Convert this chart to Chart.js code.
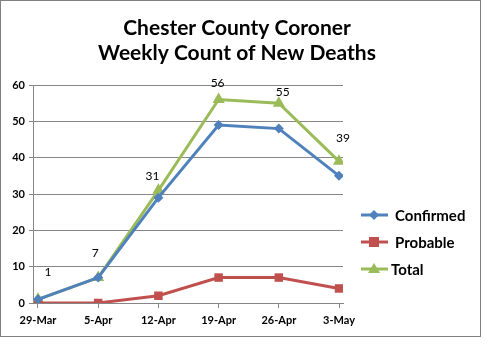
<!DOCTYPE html>
<html>
<head>
<meta charset="utf-8">
<script src="https://cdn.jsdelivr.net/npm/chart.js@4"></script>
<style>
  body { margin: 0; background: #fff; }
  #wrap { position: absolute; left: 0; top: 0; width: 479px; height: 335px; border: 1px solid #808080; }
</style>
</head>
<body>
<div id="wrap"><canvas id="myChart" width="479" height="335"></canvas></div>
<script>
var weeks = ["29-Mar", "5-Apr", "12-Apr", "19-Apr", "26-Apr", "3-May"];
var confirmed = [1, 7, 29, 49, 48, 35];
var probable = [0, 0, 2, 7, 7, 4];
var total = [1, 7, 31, 56, 55, 39];
var titleLines = ["Chester County Coroner", "Weekly Count of New Deaths"];

var FONT = "Lato, 'Open Sans', sans-serif";

// label nudges (the labels were hand placed in the original)
var labelDx = [10, -3, -6, -1, 4, 4];
var labelDy = [-27, -24, -14, -16, -11, -23];

function points(values) {
  return values.map(function (v, i) { return { x: i, y: v }; });
}

// title, legend and the data labels of Total
var extras = {
  id: "extras",
  afterDraw: function (chart) {
    var ctx = chart.ctx;
    ctx.save();
    ctx.fillStyle = "#000";
    ctx.textAlign = "center";
    ctx.textBaseline = "middle";
    ctx.font = "bold 21px " + FONT;
    ctx.fillText(titleLines[0], 236, 27);
    ctx.fillText(titleLines[1], 236, 52);

    // labels above the Total points
    ctx.font = "12px " + FONT;
    var meta = chart.getDatasetMeta(2);
    meta.data.forEach(function (pt, i) {
      ctx.fillText(String(total[i]), pt.x + labelDx[i], pt.y + labelDy[i]);
    });

    // legend
    var items = chart.data.datasets;
    ctx.textAlign = "left";
    ctx.font = "bold 15px " + FONT;
    items.forEach(function (ds, i) {
      var y = 214 + i * 27;
      ctx.strokeStyle = ds.borderColor;
      ctx.lineWidth = 3;
      ctx.beginPath();
      ctx.moveTo(360, y);
      ctx.lineTo(387, y);
      ctx.stroke();
      drawMarker(ctx, ds.pointStyle, 373, y, ds.borderColor);
      ctx.fillStyle = "#000";
      ctx.fillText(ds.label, i === 2 ? 390 : 394, y + 1);
    });
    ctx.restore();
  }
};

function drawMarker(ctx, style, x, y, color) {
  ctx.fillStyle = color;
  ctx.beginPath();
  if (style === "rectRot") {
    ctx.moveTo(x, y - 5); ctx.lineTo(x + 5, y); ctx.lineTo(x, y + 5); ctx.lineTo(x - 5, y);
  } else if (style === "rect") {
    ctx.rect(x - 5, y - 5, 10, 10);
  } else {
    ctx.moveTo(x, y - 6); ctx.lineTo(x + 6, y + 4); ctx.lineTo(x - 6, y + 4);
  }
  ctx.closePath();
  ctx.fill();
}

var ctx = document.getElementById("myChart").getContext("2d");
var myChart = new Chart(ctx, {
  type: "line",
  data: {
    datasets: [
      {
        label: "Confirmed",
        data: points(confirmed),
        borderColor: "#4F81BD",
        backgroundColor: "#4F81BD",
        borderWidth: 3,
        pointStyle: "rectRot",
        pointRadius: 5,
        pointBorderWidth: 0
      },
      {
        label: "Probable",
        data: points(probable),
        borderColor: "#C0504D",
        backgroundColor: "#C0504D",
        borderWidth: 3,
        pointStyle: "rect",
        pointRadius: 6,
        pointBorderWidth: 0
      },
      {
        label: "Total",
        data: points(total),
        borderColor: "#9BBB59",
        backgroundColor: "#9BBB59",
        borderWidth: 3,
        pointStyle: "triangle",
        pointRadius: 7,
        pointBorderWidth: 0
      }
    ]
  },
  options: {
    responsive: false,
    animation: false,
    layout: { padding: { top: 84, right: 137, left: 0, bottom: 0 } },
    plugins: {
      legend: { display: false },
      title: { display: false },
      tooltip: { enabled: false }
    },
    scales: {
      x: {
        type: "linear",
        min: -0.083,
        max: 5.066,
        grid: { display: true, drawOnChartArea: false, drawTicks: true, tickLength: 5, color: "#868686" },
        border: { color: "#868686", width: 1 },
        ticks: {
          stepSize: 1,
          includeBounds: false,
          color: "#000",
          font: { family: FONT, size: 11, weight: "bold" },
          padding: 6,
          maxRotation: 0,
          callback: function (v) { return weeks[v] !== undefined ? weeks[v] : ""; }
        },
        afterFit: function (s) { s.height = 33; }
      },
      y: {
        min: 0,
        max: 60,
        grid: { color: "#868686", tickLength: 4 },
        border: { color: "#868686", width: 1 },
        ticks: { stepSize: 10, color: "#000", font: { family: FONT, size: 11, weight: "bold" }, padding: 4 },
        afterFit: function (s) { s.width = 32; }
      }
    }
  },
  plugins: [extras]
});
</script>
</body>
</html>
